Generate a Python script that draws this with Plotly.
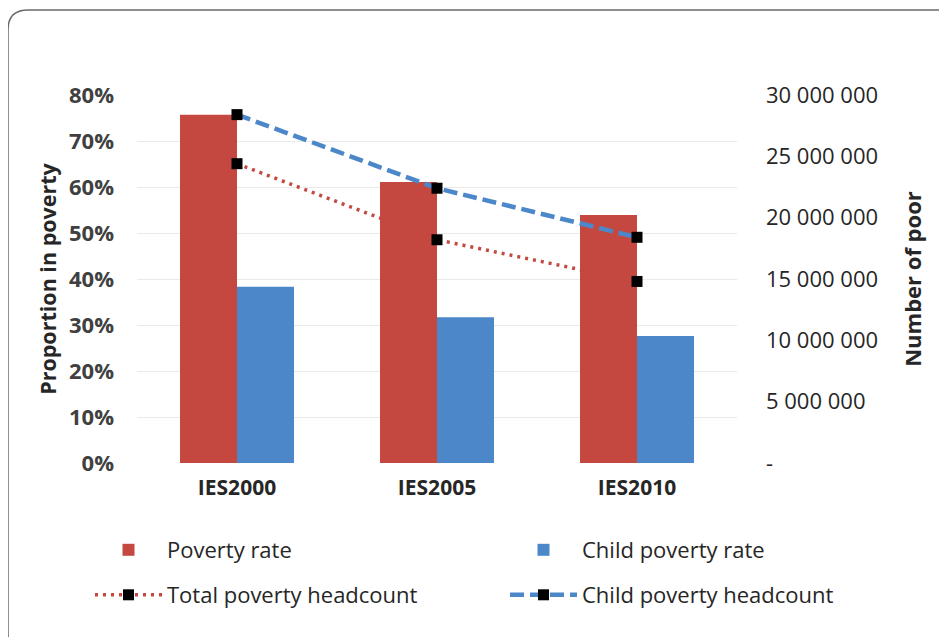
import plotly.graph_objects as go

categories = ["IES2000", "IES2005", "IES2010"]
poverty_rate = [0.757, 0.611, 0.539]
child_poverty_rate = [0.383, 0.317, 0.276]
total_headcount = [24.4e6, 18.2e6, 14.8e6]
child_headcount = [28.4e6, 22.4e6, 18.4e6]

left_ticks = [0, 0.1, 0.2, 0.3, 0.4, 0.5, 0.6, 0.7, 0.8]
right_tickvals = [0, 5e6, 10e6, 15e6, 20e6, 25e6, 30e6]
right_ticktext = ["-", "5 000 000", "10 000 000", "15 000 000", "20 000 000", "25 000 000", "30 000 000"]

RED = "#c44840"
BLUE = "#4b87c9"
FONT = "Open Sans"
TXT = "#262626"

W, H = 947, 637
OFF = 8  # page body margin
# plot area in page pixels: x 137..737, y 95..463
PX0, PX1, PY0, PY1 = 137, 737, 95, 463
ML, MT = PX0 - OFF, PY0 - OFF
MR, MB = W - (PX1 - OFF), H - (PY1 - OFF)
PW, PH = PX1 - PX0, PY1 - PY0


def px_x(x):
    return (x - PX0) / PW


def px_y(y):
    return (PY1 - y) / PH


fig = go.Figure()
fig.add_trace(go.Bar(x=categories, y=poverty_rate, name="Poverty rate",
                     marker=dict(color=RED, line=dict(width=0)), legend="legend"))
fig.add_trace(go.Bar(x=categories, y=child_poverty_rate, name="Child poverty rate",
                     marker=dict(color=BLUE, line=dict(width=0)), legend="legend2"))
fig.add_trace(go.Scatter(x=categories, y=total_headcount, name="Total poverty headcount",
                         yaxis="y2", mode="lines+markers",
                         line=dict(color=RED, width=3.5, dash="3px,5px"),
                         marker=dict(symbol="square", size=11, color="black"),
                         legend="legend3"))
fig.add_trace(go.Scatter(x=categories, y=child_headcount, name="Child poverty headcount",
                         yaxis="y2", mode="lines+markers",
                         line=dict(color=BLUE, width=4.5, dash="14px,6px"),
                         marker=dict(symbol="square", size=11, color="black"),
                         legend="legend4"))

# rounded frame (top-left visible)
x0, y0, x1, y1 = px_x(8), px_y(10), px_x(975), px_y(655)
rx, ry = 20 / PW, 20 / PH
path = (f"M {x0+rx} {y0} L {x1} {y0} L {x1} {y1} L {x0+rx} {y1} "
        f"Q {x0} {y1} {x0} {y1+ry} L {x0} {y0-ry} Q {x0} {y0} {x0+rx} {y0} Z")

leg_common = dict(orientation="h", xanchor="left", yanchor="middle", itemwidth=67,
                  font=dict(size=22, color=TXT), bgcolor="rgba(0,0,0,0)")

fig.update_layout(
    width=W, height=H,
    margin=dict(l=ML, r=MR, t=MT, b=MB),
    paper_bgcolor="white", plot_bgcolor="white",
    font=dict(family=FONT, size=20, color=TXT),
    showlegend=True,
    barmode="group", bargap=0.43, bargroupgap=0,
    xaxis=dict(showline=False, ticks="", tickfont=dict(size=21, color=TXT, weight="bold"),
               ticklabelstandoff=10),
    yaxis=dict(range=[0, 0.8], tickvals=left_ticks, tickformat=".0%",
               showgrid=True, gridcolor="#e9e9e9", gridwidth=1, zeroline=False,
               tickfont=dict(size=22, color="#404040", weight="bold"), ticklabelstandoff=22,
               title=dict(text="Proportion in poverty", font=dict(size=21.5, weight="bold", color=TXT),
                          standoff=6)),
    yaxis2=dict(range=[0, 30e6], tickvals=right_tickvals, ticktext=right_ticktext,
                overlaying="y", side="right", showgrid=False, zeroline=False,
                tickfont=dict(size=22, color=TXT), ticklabelstandoff=28,
                title=dict(text="Number of poor", font=dict(size=22, weight="bold", color=TXT),
                           standoff=28)),
    legend=dict(x=px_x(90), y=px_y(550), **leg_common),
    legend2=dict(x=px_x(505), y=px_y(550), **leg_common),
    legend3=dict(x=px_x(90), y=px_y(595), **leg_common),
    legend4=dict(x=px_x(505), y=px_y(595), **leg_common),
    shapes=[dict(type="path", xref="paper", yref="paper", path=path,
                 line=dict(color="#6b6b6b", width=1.5), fillcolor="rgba(0,0,0,0)", layer="below")],
)

fig.write_html("out.html")
